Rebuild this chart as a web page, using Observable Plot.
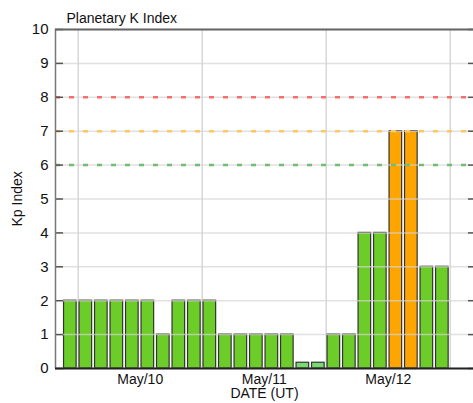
<!DOCTYPE html>
<html>
<head>
<meta charset="utf-8">
<script src="https://cdn.jsdelivr.net/npm/d3@7"></script>
<script src="https://cdn.jsdelivr.net/npm/@observablehq/plot@0.6"></script>
<style>
  html, body { margin: 0; padding: 0; background: #fff; }
  svg { display: block; font-family: "Liberation Sans", Arial, sans-serif; }
</style>
</head>
<body>
<div id="chart"></div>
<script>
// 3-hour interval start times (UT)
const kpTimes = [
  "2024-05-09T21:00Z",
  "2024-05-10T00:00Z", "2024-05-10T03:00Z", "2024-05-10T06:00Z", "2024-05-10T09:00Z",
  "2024-05-10T12:00Z", "2024-05-10T15:00Z", "2024-05-10T18:00Z", "2024-05-10T21:00Z",
  "2024-05-11T00:00Z", "2024-05-11T03:00Z", "2024-05-11T06:00Z", "2024-05-11T09:00Z",
  "2024-05-11T12:00Z", "2024-05-11T15:00Z", "2024-05-11T18:00Z", "2024-05-11T21:00Z",
  "2024-05-12T00:00Z", "2024-05-12T03:00Z", "2024-05-12T06:00Z", "2024-05-12T09:00Z",
  "2024-05-12T12:00Z", "2024-05-12T15:00Z", "2024-05-12T18:00Z", "2024-05-12T21:00Z"
];
const kpValues = [2, 2, 2, 2, 2, 2, 1, 2, 2, 2, 1, 1, 1, 1, 1, 0.17, 0.17, 1, 1, 4, 4, 7, 7, 3, 3];

const dayBoundaries = ["2024-05-10T00:00Z", "2024-05-11T00:00Z", "2024-05-12T00:00Z", "2024-05-13T00:00Z"];
const dayLabelTimes = ["2024-05-10T12:00Z", "2024-05-11T12:00Z", "2024-05-12T12:00Z"];
const dayLabels = ["May/10", "May/11", "May/12"];
const yTicks = [0, 1, 2, 3, 4, 5, 6, 7, 8, 9, 10];
const thresholdLevels = [8, 7, 6];
const thresholdColors = ["#f76e6e", "#fdc862", "#72bd72"];
const xDomain = ["2024-05-09T19:36Z", "2024-05-13T04:30Z"];
const yDomain = [0, 10];

const HOUR = 3600 * 1000;
const bars = kpTimes.map((t, i) => {
  const start = new Date(t);
  return {start, end: new Date(+start + 3 * HOUR), kp: kpValues[i]};
});
const fillFor = v => v < 0.5 ? "#76dc6e" : v < 5 ? "#6ccd28" : v < 6 ? "#ffff00" : v < 8 ? "#ffa500" : "#ff0000";

const days = dayBoundaries.map(d => new Date(d));
const dayTicks = dayLabelTimes.map((t, i) => ({t: new Date(t), label: dayLabels[i]}));
const thresholds = thresholdLevels.map((y, i) => ({y, color: thresholdColors[i]}));
const domain = xDomain.map(d => new Date(d));
const yMid = (yDomain[0] + yDomain[1]) / 2;

const chart = Plot.plot({
  width: 473,
  height: 403,
  marginLeft: 55,
  marginRight: 0,
  marginTop: 29,
  marginBottom: 35,
  style: {fontFamily: "Liberation Sans, Arial, sans-serif", background: "#fff"},
  x: {type: "utc", domain, axis: null},
  y: {domain: yDomain, axis: null},
  marks: [
    Plot.gridX(days, {stroke: "#d8d8d8", strokeOpacity: 1, strokeWidth: 1.5}),
    Plot.rectY(bars, {
      x1: "start", x2: "end", y: "kp",
      fill: d => fillFor(d.kp),
      stroke: "#333", strokeWidth: 1.2,
      insetLeft: 1.3, insetRight: 1.6
    }),
    Plot.gridY(yTicks, {stroke: "#d4d4d4", strokeOpacity: 0.7, strokeWidth: 1.5}),
    Plot.ruleY(thresholds, {y: "y", stroke: "color", strokeWidth: 2.5, strokeDasharray: "5,9"}),
    Plot.axisY(yTicks, {anchor: "left", tickSize: -8, tickFormat: () => "", stroke: "#555", strokeWidth: 1.5}),
    Plot.axisY(yTicks, {anchor: "right", tickSize: -6, tickFormat: () => "", stroke: "#555", strokeWidth: 1.5}),
    Plot.ruleX([domain[0]], {stroke: "#777", strokeWidth: 1.5}),
    Plot.ruleY([10], {stroke: "#666", strokeWidth: 2}),
    Plot.ruleY([0], {stroke: "#222", strokeWidth: 2}),
    Plot.text(yTicks, {y: d => d, frameAnchor: "left", dx: -7, textAnchor: "end", lineAnchor: "middle", fontSize: 15, fill: "#111"}),
    Plot.text(dayTicks, {x: "t", text: "label", frameAnchor: "bottom", textAnchor: "middle", lineAnchor: "middle", dy: 11, fontSize: 14, fill: "#111"}),
    Plot.text(["DATE (UT)"], {frameAnchor: "bottom", textAnchor: "middle", lineAnchor: "middle", dy: 25.5, fontSize: 14, fill: "#111"}),
    Plot.text(["Kp Index"], {x: () => domain[0], y: () => yMid, textAnchor: "start", lineAnchor: "middle", dx: -38, dy: 27.5, rotate: -90, fontSize: 14, fill: "#111"}),
    Plot.text(["Planetary K Index"], {frameAnchor: "top-left", lineAnchor: "middle", dx: 11, dy: -10.5, textAnchor: "start", fontSize: 14, fill: "#111"})
  ]
});
document.getElementById("chart").appendChild(chart);
</script>
</body>
</html>
